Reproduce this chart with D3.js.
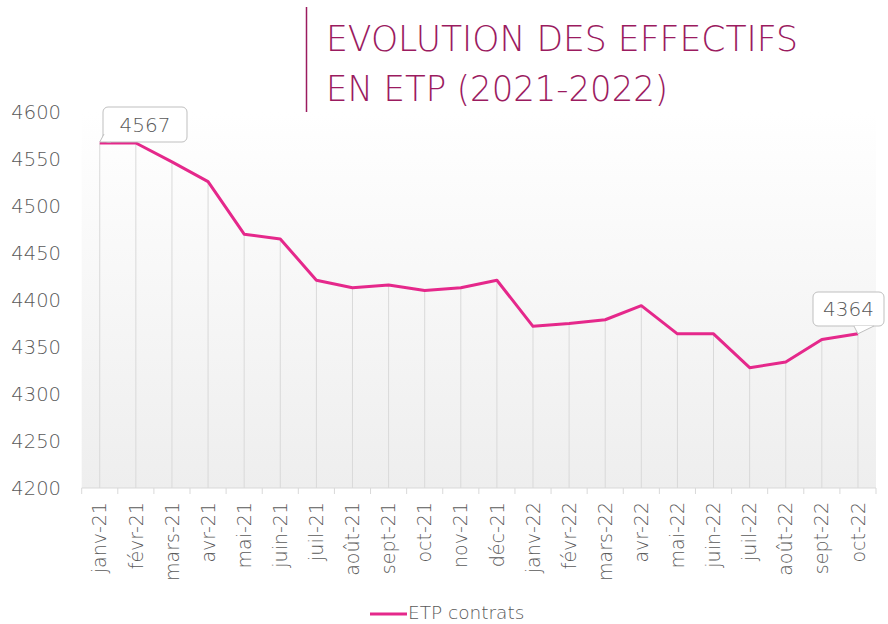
<!DOCTYPE html>
<html>
<head>
<meta charset="utf-8">
<script src="https://cdn.jsdelivr.net/npm/d3@7"></script>
<style>
  html, body { margin: 0; padding: 0; background: #fff; }
  svg { display: block; font-family: 'DejaVu Sans', sans-serif; }
</style>
</head>
<body>
<div id="chart"></div>
<script>
const months = ['janv-21', 'févr-21', 'mars-21', 'avr-21', 'mai-21', 'juin-21', 'juil-21', 'août-21',
  'sept-21', 'oct-21', 'nov-21', 'déc-21', 'janv-22', 'févr-22', 'mars-22', 'avr-22', 'mai-22',
  'juin-22', 'juil-22', 'août-22', 'sept-22', 'oct-22']
const etp = [4567, 4567, 4547, 4526, 4470, 4465, 4421, 4413, 4416, 4410, 4413, 4421,
  4372, 4375, 4379, 4394, 4364, 4364, 4328, 4334, 4358, 4364]
const yTicks = [4200, 4250, 4300, 4350, 4400, 4450, 4500, 4550, 4600]
const titleLines = ['EVOLUTION DES EFFECTIFS', 'EN ETP (2021-2022)']
const seriesName = 'ETP contrats'
const labelled = [0, 21]

const width = 888
const height = 624
const plot = { left: 81.7, right: 876, top: 112, bottom: 488 }
const pink = '#e5288b'
const wine = '#9b1b5f'
const grey = '#595959'

const svg = d3.select('#chart')
  .append('svg')
  .attr('width', width)
  .attr('height', height)

const defs = svg.append('defs')
const grad = defs.append('linearGradient')
  .attr('id', 'bg')
  .attr('x1', 0).attr('y1', 0).attr('x2', 0).attr('y2', 1)
grad.append('stop').attr('offset', '0%').attr('stop-color', '#ffffff')
grad.append('stop').attr('offset', '100%').attr('stop-color', '#eeeeee')

const x = d3.scaleBand()
  .domain(months)
  .range([plot.left, plot.right])
  .paddingInner(0)
  .paddingOuter(0)

const y = d3.scaleLinear()
  .domain([4200, 4600])
  .range([plot.bottom, plot.top])

const cx = d => x(d) + x.bandwidth() / 2

// title
svg.append('line')
  .attr('x1', 306.5).attr('x2', 306.5)
  .attr('y1', 7).attr('y2', 142)
  .attr('stroke', wine)
  .attr('stroke-width', 1.5)

const titleLengths = [472, 342]
titleLines.forEach((t, i) => {
  svg.append('text')
    .attr('x', 326)
    .attr('y', 51 + i * 50)
    .attr('fill', wine)
    .attr('font-size', 36)
    .attr('font-weight', 200)
    .attr('textLength', titleLengths[i])
    .attr('lengthAdjust', 'spacingAndGlyphs')
    .text(t)
})

// plot background
svg.append('rect')
  .attr('x', plot.left)
  .attr('y', plot.top)
  .attr('width', plot.right - plot.left)
  .attr('height', plot.bottom - plot.top)
  .attr('fill', 'url(#bg)')

// drop lines
svg.append('g')
  .selectAll('line')
  .data(months)
  .join('line')
  .attr('x1', d => cx(d))
  .attr('x2', d => cx(d))
  .attr('y1', (d, i) => y(etp[i]))
  .attr('y2', plot.bottom)
  .attr('stroke', '#d9d9d9')
  .attr('stroke-width', 1)

// bottom axis
const xAxis = svg.append('g')
  .attr('transform', `translate(0,${plot.bottom})`)
  .call(d3.axisBottom(x).tickSize(0))

xAxis.select('.domain').remove()
xAxis.append('line')
  .attr('x1', plot.left).attr('x2', plot.right)
  .attr('y1', 0).attr('y2', 0)
  .attr('stroke', '#d9d9d9')

xAxis.selectAll('.edge')
  .data(months.concat(['end']))
  .join('line')
  .attr('class', 'edge')
  .attr('x1', (d, i) => plot.left + i * x.bandwidth())
  .attr('x2', (d, i) => plot.left + i * x.bandwidth())
  .attr('y1', 0).attr('y2', 6)
  .attr('stroke', '#d9d9d9')

xAxis.selectAll('.tick text')
  .attr('transform', 'rotate(-90)')
  .attr('x', -14)
  .attr('y', 0)
  .attr('dy', '0.35em')
  .style('text-anchor', 'end')
  .attr('font-size', 19)
  .attr('font-weight', 200)
  .attr('font-family', "'DejaVu Sans', sans-serif")
  .attr('fill', grey)

// left axis
const yAxis = svg.append('g')
  .attr('transform', 'translate(61,0)')
  .call(d3.axisLeft(y).tickValues(yTicks).tickFormat(d3.format('d')).tickSize(0).tickPadding(0))

yAxis.select('.domain').remove()
yAxis.selectAll('.tick text')
  .attr('font-size', 19.5)
  .attr('font-weight', 200)
  .attr('font-family', "'DejaVu Sans', sans-serif")
  .attr('fill', grey)

// the line
const line = d3.line()
  .x(d => cx(d.m))
  .y(d => y(d.v))

svg.append('path')
  .datum(months.map((m, i) => ({ m, v: etp[i] })))
  .attr('fill', 'none')
  .attr('stroke', pink)
  .attr('stroke-width', 3)
  .attr('stroke-linejoin', 'round')
  .attr('d', line)

// callouts
const callouts = [
  { i: labelled[0], bx: 103, by: 107, bw: 84, bh: 35 },
  { i: labelled[1], bx: 813, by: 292, bw: 71, bh: 34 }
]

callouts.forEach(c => {
  const px = cx(months[c.i])
  const py = y(etp[c.i])
  const g = svg.append('g')
  g.append('rect')
    .attr('x', c.bx).attr('y', c.by)
    .attr('width', c.bw).attr('height', c.bh)
    .attr('rx', 5)
    .attr('fill', '#fff')
    .attr('stroke', '#bfbfbf')
  let tail
  if (c.i === 0) {
    tail = `M${c.bx + 1},${c.by + c.bh - 8} L${px},${py - 1} L${c.bx + 8},${c.by + c.bh}`
  } else {
    tail = `M${px - 4},${c.by + c.bh} L${px},${py} L${px + 16},${c.by + c.bh}`
  }
  g.append('path')
    .attr('d', tail)
    .attr('fill', '#fff')
    .attr('stroke', '#bfbfbf')
  g.append('text')
    .attr('x', c.bx + c.bw / 2)
    .attr('y', c.by + c.bh / 2)
    .attr('dy', '0.35em')
    .attr('text-anchor', 'middle')
    .attr('font-size', 20)
    .attr('font-weight', 200)
    .attr('fill', grey)
    .text(etp[c.i])
})

// legend
const legend = svg.append('g')
legend.append('line')
  .attr('x1', 370).attr('x2', 407)
  .attr('y1', 614).attr('y2', 614)
  .attr('stroke', pink)
  .attr('stroke-width', 3)
legend.append('text')
  .attr('x', 408)
  .attr('y', 613)
  .attr('dy', '0.35em')
  .attr('font-size', 18.5)
  .attr('font-weight', 200)
  .attr('fill', grey)
  .text(seriesName)
</script>
</body>
</html>
